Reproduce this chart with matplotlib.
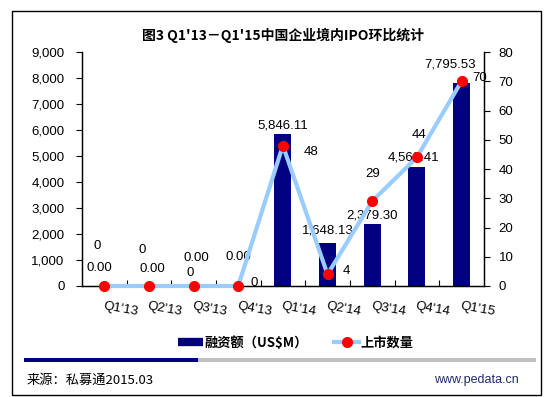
import numpy as np
import matplotlib
matplotlib.use('Agg')
import matplotlib.pyplot as plt
from matplotlib.lines import Line2D
from matplotlib.patches import Rectangle

plt.rcParams['font.family'] = ['Liberation Sans', 'Noto Sans CJK SC', 'DejaVu Sans']

# data
quarters = ["Q1'13", "Q2'13", "Q3'13", "Q4'13", "Q1'14", "Q2'14", "Q3'14", "Q4'14", "Q1'15"]
amount = [0.00, 0.00, 0.00, 0.00, 5846.11, 1648.13, 2379.30, 4568.41, 7795.53]
count = [0, 0, 0, 0, 48, 4, 29, 44, 70]

# label offsets (pixels) copied from the messy original placement
amt_off = [(-5, 18), (4, 17), (3, 28), (0, 29), (0, 9), (0, 13), (0, 9), (-3, 10), (-11, 19)]
cnt_off = [(-7, 40), (-7, 36), (-3, 13), (16, 3), (28, -6), (19, 3), (0, 27), (2, 22), (18, 3)]

navy = '#000080'
lightblue = '#99CCFF'

fig = plt.figure(figsize=(5.53, 3.97), dpi=100)
ax1 = fig.add_axes([0.148, 0.2796, 0.727, 0.5894])
ax2 = ax1.twinx()

x = np.arange(len(quarters))
ax1.bar(x, amount, width=0.38, color=navy, zorder=2)
ax1.set_xlim(-0.5, len(quarters) - 0.5)
ax1.set_ylim(0, 9000)
ax1.set_yticks(np.arange(0, 9001, 1000))
ax1.set_yticklabels(['{:,}'.format(v) for v in range(0, 9001, 1000)])
ax1.tick_params(axis='y', direction='out', length=4, width=0.8, pad=8.5, labelsize=9.5)

ax1.set_xticks(x)
ax1.set_xticklabels(quarters, rotation=-10, ha='left', rotation_mode='anchor', fontsize=9.5)
ax1.tick_params(axis='x', which='major', length=0, pad=10)
ax1.set_xticks(np.arange(0.5, len(quarters) - 1, 1), minor=True)
ax1.tick_params(axis='x', which='minor', direction='in', length=4, width=0.8)

for i, v in enumerate(amount):
    ax1.annotate('{:,.2f}'.format(v), (x[i], v), xytext=amt_off[i],
                 textcoords='offset pixels', ha='center', va='center', fontsize=9.5,
                 annotation_clip=False)

ax2.plot(x, count, color=lightblue, lw=3, marker='o', markersize=7,
         markerfacecolor='red', markeredgecolor='red', clip_on=False, zorder=3)
ax2.set_ylim(0, 80)
ax2.set_yticks(np.arange(0, 81, 10))
ax2.tick_params(axis='y', direction='out', length=4, width=0.8, pad=6.5, labelsize=9.5)

for i, v in enumerate(count):
    ax2.annotate(str(v), (x[i], v), xytext=cnt_off[i], textcoords='offset pixels',
                 ha='center', va='center', fontsize=9.5, annotation_clip=False, zorder=5)

for ax in [ax1, ax2]:
    ax.spines['top'].set_visible(False)
    for s in ['left', 'right', 'bottom']:
        ax.spines[s].set_linewidth(0.9)
        ax.spines[s].set_color('black')

ax1.set_title("图3 Q1'13－Q1'15中国企业境内IPO环比统计", fontsize=10, fontweight='bold',
              family=['Noto Sans CJK SC', 'DejaVu Sans'], pad=9)

# legend
handles = [Line2D([], [], color=navy, lw=6, solid_capstyle='butt'),
           Line2D([], [], color=lightblue, lw=3, marker='o', markersize=7,
                  markerfacecolor='red', markeredgecolor='red')]
fig.legend(handles, ['融资额（US$M）', '上市数量'], loc='center',
           bbox_to_anchor=(0.535, 0.136), ncol=2, frameon=False,
           prop={'family': ['Noto Sans CJK SC'], 'weight': 'bold', 'size': 9.5},
           handlelength=1.9, handletextpad=0.1, columnspacing=2.0)

# bottom stripe
fig.add_artist(Rectangle((24 / 553, 1 - 362 / 397), (198 - 24) / 553, 4 / 397,
                         transform=fig.transFigure, color=navy, lw=0))
fig.add_artist(Rectangle((198 / 553, 1 - 362 / 397), (536 - 198) / 553, 4 / 397,
                         transform=fig.transFigure, color='#BFBFBF', lw=0))

# footer
fig.text(27 / 553, 0.043, '来源：私募通2015.03', fontsize=9.5, va='center', ha='left',
         family=['Noto Sans CJK SC', 'DejaVu Sans'])
fig.text(519 / 553, 0.043, 'www.pedata.cn', fontsize=9, va='center', ha='right', color='#1F2A6E')

# outer frame
fig.add_artist(Rectangle((12 / 553, 2 / 397), (541 - 12) / 553, (395 - 11) / 397,
                         transform=fig.transFigure, fill=False, edgecolor='black', lw=1))

fig.savefig('out.png', dpi=100)
